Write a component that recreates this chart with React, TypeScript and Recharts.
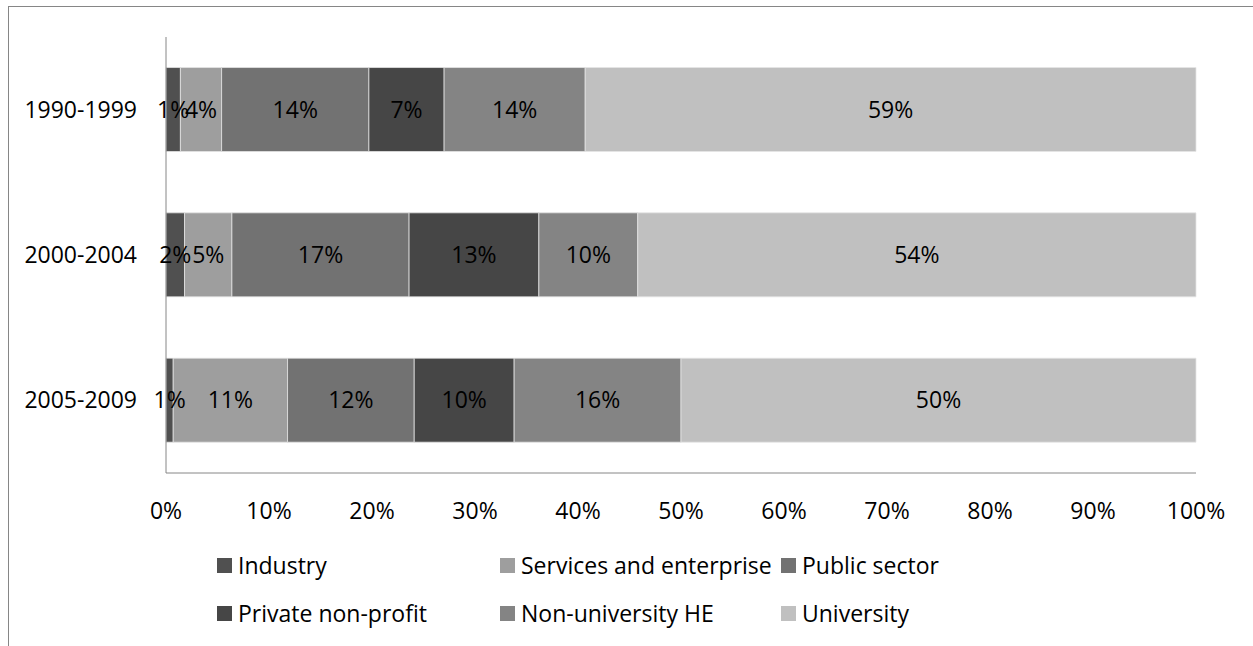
import { Bar, BarChart, XAxis, YAxis, LabelList } from "recharts"

const periods = ["1990-1999", "2000-2004", "2005-2009"]

const industry = [1.4, 1.8, 0.7]
const services = [4.0, 4.6, 11.1]
const publicSector = [14.3, 17.2, 12.3]
const privateNonProfit = [7.3, 12.6, 9.7]
const nonUniversityHE = [13.7, 9.6, 16.2]
const university = [59.3, 54.2, 50.0]

const xTicks = [0, 10, 20, 30, 40, 50, 60, 70, 80, 90, 100]

const series = [
  { key: "industry", name: "Industry", color: "#505050" },
  { key: "services", name: "Services and enterprise", color: "#9e9e9e" },
  { key: "publicSector", name: "Public sector", color: "#727272" },
  { key: "privateNonProfit", name: "Private non-profit", color: "#464646" },
  { key: "nonUniversityHE", name: "Non-university HE", color: "#848484" },
  { key: "university", name: "University", color: "#c0c0c0" },
]

const data = periods.map((period, i) => ({
  period,
  industry: industry[i],
  services: services[i],
  publicSector: publicSector[i],
  privateNonProfit: privateNonProfit[i],
  nonUniversityHE: nonUniversityHE[i],
  university: university[i],
}))

const font = "'Open Sans', sans-serif"
const fontSize = 23
const axisColor = "#868686"

function LegendBox() {
  return (
    <div
      style={{
        position: "absolute",
        left: 217,
        top: 541,
        display: "grid",
        gridTemplateColumns: "283px 281px 200px",
        gridAutoRows: "48px",
        fontFamily: font,
        fontSize: fontSize,
        color: "#000",
      }}
    >
      {series.map((s) => (
        <div key={s.key} style={{ display: "flex", alignItems: "center", whiteSpace: "nowrap" }}>
          <span style={{ width: 15, height: 15, background: s.color, marginRight: 6, display: "inline-block" }} />
          <span>{s.name}</span>
        </div>
      ))}
    </div>
  )
}

export default function App() {
  return (
    <div style={{ position: "absolute", left: 0, top: 0, width: 1253, height: 646, background: "#fff" }}>
      <div
        style={{
          position: "absolute",
          left: 8,
          top: 6,
          width: 1245,
          height: 640,
          borderLeft: `1px solid ${axisColor}`,
          borderTop: `1px solid ${axisColor}`,
        }}
      />
      <div style={{ position: "absolute", left: 0, top: 0 }}>
        <BarChart
          width={1253}
          height={646}
          data={data}
          layout="vertical"
          barCategoryGap="21%"
          margin={{ top: 37, right: 57, bottom: 113, left: 0 }}
        >
          <XAxis
            type="number"
            domain={[0, 100]}
            ticks={xTicks}
            tickFormatter={(v) => `${v}%`}
            stroke={axisColor}
            tick={{ fill: "#000", fontSize: fontSize, fontFamily: font }}
            tickLine={false}
            tickSize={0}
            tickMargin={30}
            height={60}
            interval={0}
          />
          <YAxis
            type="category"
            dataKey="period"
            stroke={axisColor}
            tick={{ fill: "#000", fontSize: fontSize, fontFamily: font }}
            tickLine={false}
            tickSize={0}
            tickMargin={29}
            width={166}
          />
          {series.map((s) => (
            <Bar
              key={s.key}
              dataKey={s.key}
              name={s.name}
              stackId="a"
              fill={s.color}
              stroke="#e6e6e6"
              strokeWidth={0.75}
              isAnimationActive={false}
            >
              <LabelList
                dataKey={s.key}
                position="center"
                formatter={(v: number) => `${Math.round(v)}%`}
                fill="#000"
                fontSize={fontSize}
                fontFamily={font}
              />
            </Bar>
          ))}
        </BarChart>
      </div>
      <LegendBox />
    </div>
  )
}
